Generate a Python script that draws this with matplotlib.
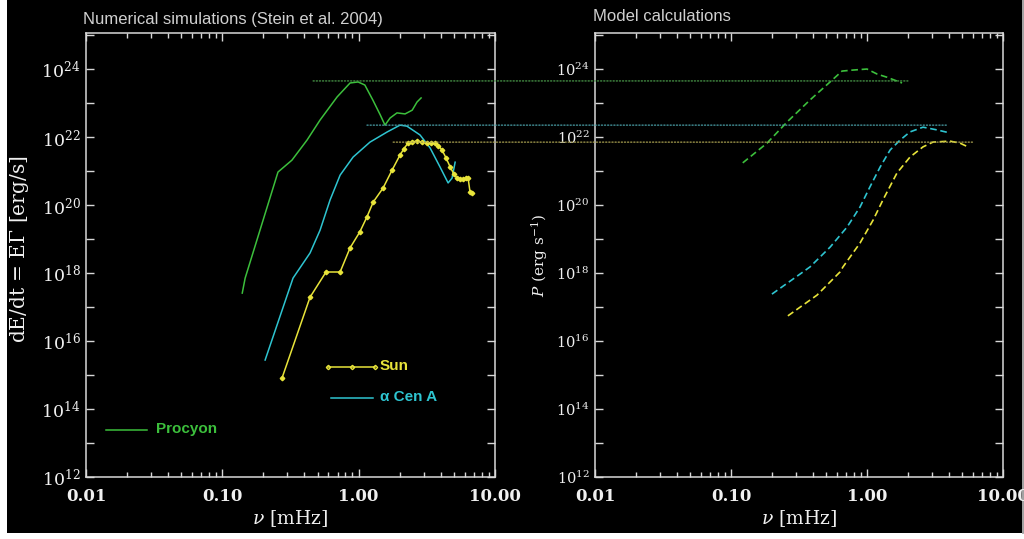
import numpy as np
import matplotlib
matplotlib.use("Agg")
import matplotlib.pyplot as plt
from matplotlib.ticker import FixedLocator, FuncFormatter, NullFormatter, LogLocator
from matplotlib.patches import Rectangle, ConnectionPatch
from matplotlib.lines import Line2D

plt.rcParams['mathtext.fontset'] = 'dejavuserif'

# ---------------- data (left panel: numerical simulations) ----------------
procyon_nu = [0.140, 0.147, 0.256, 0.324, 0.418, 0.521, 0.695, 0.865, 0.99, 1.11,
              1.27, 1.44, 1.56, 1.70, 1.91, 2.19, 2.47, 2.68, 2.87]
procyon_logP = [17.41, 17.85, 20.97, 21.32, 21.91, 22.50, 23.18, 23.59, 23.62, 23.53,
                23.09, 22.65, 22.35, 22.56, 22.71, 22.68, 22.79, 23.03, 23.15]

acen_nu = [0.206, 0.330, 0.440, 0.521, 0.617, 0.731, 0.910, 1.21, 1.62, 2.01, 2.26,
           2.82, 3.34, 3.95, 4.53, 4.84, 5.10]
acen_logP = [15.44, 17.85, 18.59, 19.26, 20.15, 20.88, 21.41, 21.85, 22.15, 22.35, 22.32,
             22.06, 21.68, 21.12, 20.65, 20.79, 21.26]

sun_nu = [0.274, 0.440, 0.576, 0.731, 0.865, 1.02, 1.15, 1.28, 1.51, 1.76, 2.01, 2.15,
          2.30, 2.48, 2.68, 2.90, 3.18, 3.40, 3.64, 3.85, 4.09, 4.38, 4.69, 4.98, 5.27,
          5.55, 5.83, 6.10, 6.35, 6.56, 6.79]
sun_logP = [14.91, 17.29, 18.03, 18.03, 18.74, 19.21, 19.65, 20.09, 20.50, 21.03, 21.47,
            21.66, 21.82, 21.86, 21.88, 21.85, 21.82, 21.82, 21.82, 21.74, 21.62, 21.38,
            21.12, 20.92, 20.79, 20.76, 20.76, 20.79, 20.79, 20.38, 20.35]

# ---------------- data (right panel: model calculations) ----------------
m_procyon_nu = [0.122, 0.184, 0.258, 0.381, 0.535, 0.655, 0.79, 1.0, 1.19, 1.40, 1.81]
m_procyon_logP = [21.24, 21.82, 22.44, 23.09, 23.62, 23.94, 23.97, 24.0, 23.85, 23.76, 23.59]

m_acen_nu = [0.200, 0.338, 0.381, 0.535, 0.713, 0.888, 1.05, 1.25, 1.48, 1.75, 2.07,
             2.58, 3.27, 4.07]
m_acen_logP = [17.38, 18.03, 18.18, 18.76, 19.35, 19.94, 20.53, 21.12, 21.62, 21.91,
               22.15, 22.29, 22.21, 22.12]

m_sun_nu = [0.262, 0.429, 0.633, 0.666, 0.888, 1.11, 1.31, 1.66, 2.07, 2.58, 3.05,
            4.07, 4.83, 5.53]
m_sun_logP = [16.74, 17.35, 18.03, 18.18, 18.88, 19.56, 20.15, 20.94, 21.41, 21.71,
              21.85, 21.88, 21.82, 21.71]

# peak reference levels (dotted lines): (log level, start nu in left, end nu in right)
ref_logP = [23.65, 22.35, 21.85]
ref_start_nu = [0.463, 1.15, 1.79]
ref_end_nu = [2.0, 3.87, 6.0]

xtick_vals = [0.01, 0.1, 1.0, 10.0]
xtick_labels = ["0.01", "0.10", "1.00", "10.00"]
ytick_exps = list(range(12, 26))

titles = ["Numerical simulations (Stein et al. 2004)", "Model calculations"]

C_GREEN = "#3cbf3c"
C_CYAN = "#2ec4d0"
C_YELLOW = "#e8e43a"
C_AXIS = "#d8d8d8"

# ---------------- figure ----------------
fig = plt.figure(figsize=(10.24, 5.39), dpi=100, facecolor="white")
bg = Rectangle((7 / 1024, 1 - 533 / 539), 1015 / 1024, 533 / 539,
               transform=fig.transFigure, facecolor="black", edgecolor="none",
               zorder=-10)
fig.add_artist(bg)
fig.add_artist(Line2D([1022.5 / 1024, 1022.5 / 1024], [1 - 533 / 539, 1],
                      transform=fig.transFigure, color="#909090", lw=1.2, zorder=-9))

ax1 = fig.add_axes([86 / 1024, 1 - 477 / 539, 409 / 1024, 444 / 539])
ax2 = fig.add_axes([595 / 1024, 1 - 477 / 539, 408 / 1024, 444 / 539])


def style(ax, small):
    ax.patch.set_alpha(0)
    ax.set_xscale("log")
    ax.set_yscale("log")
    ax.set_xlim(0.01, 10)
    ax.set_ylim(1e12, 10 ** 25.06)
    for s in ax.spines.values():
        s.set_color(C_AXIS)
        s.set_linewidth(1.1)
    ax.xaxis.set_major_locator(FixedLocator(xtick_vals))
    ax.xaxis.set_major_formatter(FuncFormatter(
        lambda v, p: xtick_labels[int(round(np.log10(v))) + 2]))
    ax.xaxis.set_minor_locator(LogLocator(base=10, subs=np.arange(2, 10)))
    ax.xaxis.set_minor_formatter(NullFormatter())
    ax.yaxis.set_major_locator(FixedLocator([10.0 ** e for e in ytick_exps]))
    ax.yaxis.set_major_formatter(FuncFormatter(
        lambda v, p: (r"$10^{%d}$" % int(round(np.log10(v))))
        if int(round(np.log10(v))) % 2 == 0 and int(round(np.log10(v))) <= 24 else ""))
    ax.yaxis.set_minor_formatter(NullFormatter())
    ax.yaxis.set_minor_locator(FixedLocator([]))
    ax.tick_params(which="both", direction="in", top=True, right=True,
                   color=C_AXIS, width=1.0)
    ax.tick_params(which="major", length=6)
    ax.tick_params(which="minor", length=3.5)
    ax.tick_params(axis="y", which="major", labelsize=10.5 if small else 12.5,
                   labelcolor="#f0f0f0", pad=4)
    ax.tick_params(axis="x", which="major", labelsize=12, labelcolor="#f0f0f0", pad=8)
    ax.set_xlabel(r"$\nu$ [mHz]", color="#f0f0f0", fontsize=13.5,
                  family="DejaVu Serif", labelpad=2)


style(ax1, False)
style(ax2, True)
for ax in (ax1, ax2):
    for lab in ax.get_xticklabels():
        lab.set_family("DejaVu Serif")
        lab.set_fontweight("bold")

# left panel curves
pow10 = lambda a: [10.0 ** v for v in a]
ax1.plot(procyon_nu, pow10(procyon_logP), color=C_GREEN, lw=1.1)
ax1.plot(acen_nu, pow10(acen_logP), color=C_CYAN, lw=1.1)
ax1.plot(sun_nu, pow10(sun_logP), color=C_YELLOW, lw=1.1, marker="D", ms=2.3,
         mec=C_YELLOW, mfc=C_YELLOW)

# right panel curves
ax2.plot(m_procyon_nu, pow10(m_procyon_logP), color=C_GREEN, lw=1.2, dashes=(4, 2.2))
ax2.plot(m_acen_nu, pow10(m_acen_logP), color=C_CYAN, lw=1.2, dashes=(4, 2.2))
ax2.plot(m_sun_nu, pow10(m_sun_logP), color=C_YELLOW, lw=1.2, dashes=(4, 2.2))

# dotted reference lines across both panels
ref_cols = ["#4a9a4a", "#4aa0a8", "#a8a050"]
for lv, xs, xe, c in zip(ref_logP, ref_start_nu, ref_end_nu, ref_cols):
    cp = ConnectionPatch(xyA=(xs, 10.0 ** lv), coordsA=ax1.transData,
                         xyB=(xe, 10.0 ** lv), coordsB=ax2.transData,
                         color=c, lw=0.9, linestyle=(0, (1, 1.5)), zorder=1)
    fig.add_artist(cp)

# legend (hand-drawn as in the original)
leg_font = dict(family="Liberation Sans", fontweight="bold", fontsize=11,
                va="center", ha="left", transform=ax1.transAxes)
ax1.plot([0.592, 0.650, 0.707], [0.248, 0.248, 0.248], transform=ax1.transAxes,
         color=C_YELLOW, lw=1.1, marker="D", ms=2.2, mfc="none", clip_on=False)
ax1.text(0.719, 0.250, "Sun", color=C_YELLOW, **leg_font)
ax1.plot([0.599, 0.702], [0.178, 0.178], transform=ax1.transAxes, color=C_CYAN, lw=1.1)
ax1.text(0.719, 0.180, "\u03b1 Cen A", color=C_CYAN, **leg_font)
ax1.plot([0.049, 0.149], [0.106, 0.106], transform=ax1.transAxes, color=C_GREEN, lw=1.1)
ax1.text(0.171, 0.108, "Procyon", color=C_GREEN, **leg_font)

# axis labels
fig.text(20 / 1024, 1 - 249 / 539, r"dE/dt = E$\Gamma$ [erg/s]", rotation=90,
         color="#f0f0f0", fontsize=14.5, family="DejaVu Serif", ha="center", va="center")
fig.text(540 / 1024, 1 - 255 / 539, r"$P$ (erg s$^{-1}$)", rotation=90,
         color="#f0f0f0", fontsize=11, family="DejaVu Serif", ha="center", va="center")

# titles
fig.text(83 / 1024, 1 - 24 / 539, titles[0], color="#d0d0d0", fontsize=12,
         family="Liberation Sans", ha="left", va="baseline")
fig.text(593 / 1024, 1 - 21 / 539, titles[1], color="#d0d0d0", fontsize=12,
         family="Liberation Sans", ha="left", va="baseline")

fig.savefig("out.png", dpi=100, facecolor="white")
